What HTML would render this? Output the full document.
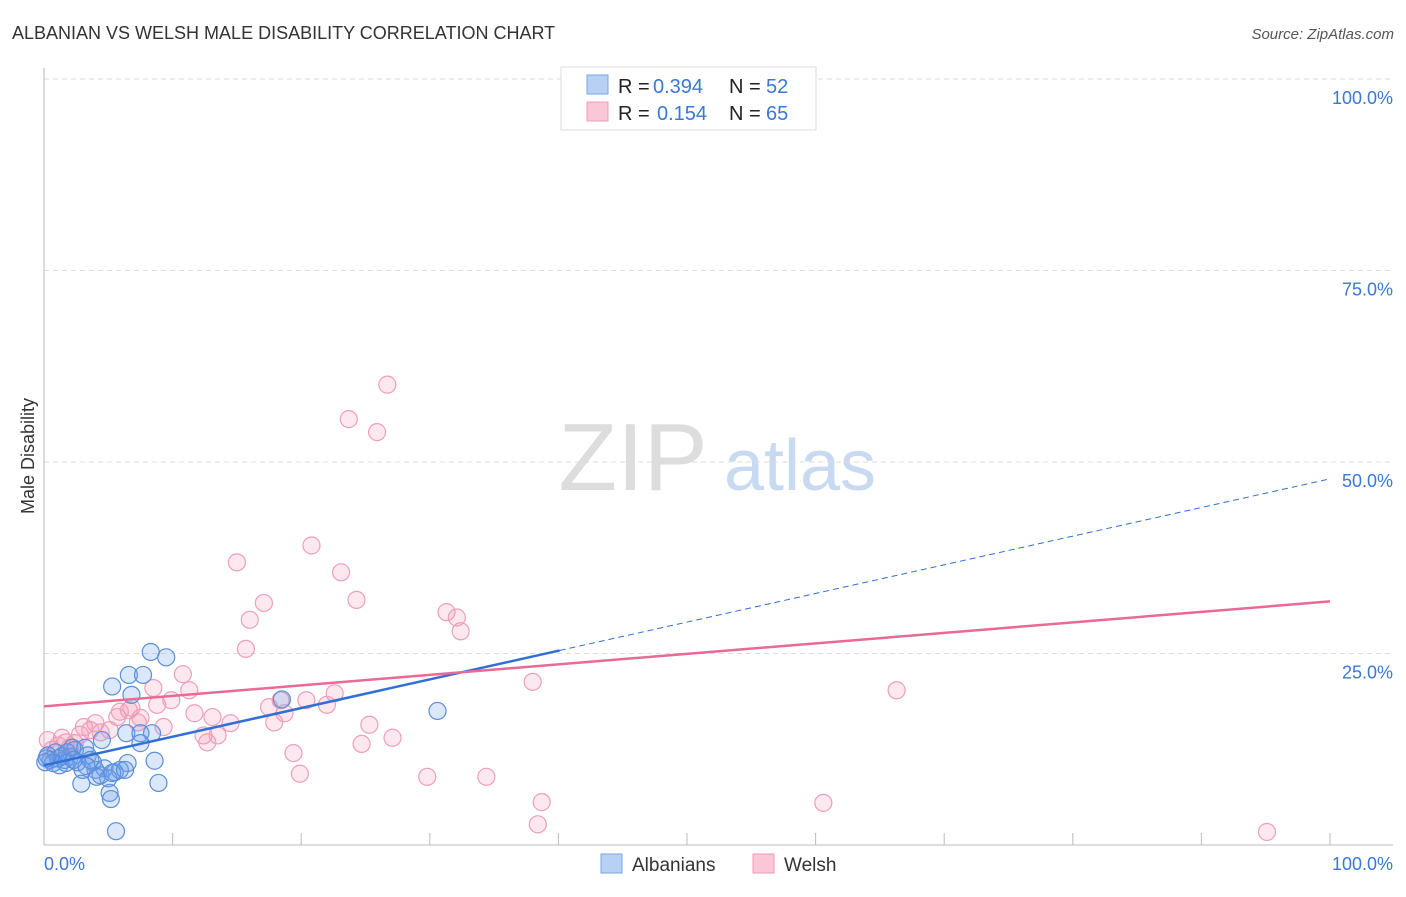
<!DOCTYPE html>
<html><head><meta charset="utf-8"><style>
body{margin:0;background:#fff;font-family:"Liberation Sans",sans-serif}
svg text{font-family:"Liberation Sans",sans-serif}
</style></head><body>
<svg id="c" width="1406" height="892">
<text x="12" y="39" font-size="18" fill="#333">ALBANIAN VS WELSH MALE DISABILITY CORRELATION CHART</text>
<text x="1394" y="39" font-size="15" fill="#555" text-anchor="end" font-style="italic">Source: ZipAtlas.com</text>
<text x="633" y="490" font-size="96" fill="#ddd" font-family="Liberation Serif" text-anchor="middle">ZIP</text>
<text x="800" y="490" font-size="72" fill="#c8daf2" text-anchor="middle">atlas</text>
<text transform="translate(34,456) rotate(-90)" font-size="18" fill="#333" text-anchor="middle">Male Disability</text>
<g id="grid"></g><g id="marks"></g>
<g>
<rect x="561" y="67" width="255" height="63" fill="#fff" stroke="#ddd"/>
<rect x="587" y="75" width="21" height="19" fill="#b7d0f3" stroke="#7aa6e6"/>
<rect x="587" y="102" width="21" height="19" fill="#f9c7d6" stroke="#ef9bb5"/>
<text x="618" y="93" font-size="20" fill="#222">R =</text>
<text x="653" y="93" font-size="20" fill="#3a78d6">0.394</text>
<text x="729" y="93" font-size="20" fill="#222">N =</text>
<text x="766" y="93" font-size="20" fill="#3a78d6">52</text>
<text x="618" y="120" font-size="20" fill="#222">R =</text>
<text x="657" y="120" font-size="20" fill="#3a78d6">0.154</text>
<text x="729" y="120" font-size="20" fill="#222">N =</text>
<text x="766" y="120" font-size="20" fill="#3a78d6">65</text>
</g>
<g>
<rect x="601" y="854" width="21" height="19" fill="#b7d0f3" stroke="#7aa6e6"/>
<text x="632" y="871" font-size="19" fill="#333">Albanians</text>
<rect x="753" y="854" width="21" height="19" fill="#f9c7d6" stroke="#ef9bb5"/>
<text x="784" y="871" font-size="19" fill="#333">Welsh</text>
</g>
<text x="44" y="870" font-size="18" fill="#3a78d6">0.0%</text>
<text x="1393" y="870" font-size="18" fill="#3a78d6" text-anchor="end">100.0%</text>
</svg>
<script>
const yTicks=[100,75,50,25];
const xTicks=[0,10,20,30,40,50,60,70,80,90,100];
const blueX=[8.3,9.5,6.6,7.7,5.3,6.8,18.5,30.6,6.4,8.4,7.5,7.5,4.5,8.6,6.5,5.9,4.0,4.7,3.0,2.0,1.2,0.5,0.9,2.4,3.4,3.8,5.5,4.4,2.9,8.9,5.1,5.2,5.6,1.6,2.2,0.3,1.1,3.2,5.0,4.1,1.4,1.8,0.7,2.6,3.6,0.1,5.3,6.3,0.2,1.7,3.3,2.3];
const blueY=[25.2,24.5,22.2,22.2,20.7,19.6,19.0,17.5,14.6,14.6,14.6,13.3,13.7,11.0,10.7,9.8,9.8,10.0,9.8,11.5,10.4,11.1,12.1,12.4,11.7,10.8,9.5,9.1,8.0,8.1,6.8,6.0,1.8,11.1,12.7,11.7,11.3,12.7,8.7,8.9,11.6,12.1,10.7,10.8,11.1,10.8,9.4,9.8,11.3,10.7,10.3,11.1];
const pinkX=[54.2,26.7,23.7,25.9,15.0,20.8,23.1,17.1,24.3,16.0,31.3,32.1,32.4,15.7,10.8,38.0,66.3,8.5,11.3,9.9,8.8,18.4,20.4,22.6,22.0,17.5,18.7,6.6,4.0,5.7,7.3,9.3,11.7,13.1,14.5,6.8,3.1,4.4,12.4,12.7,13.5,17.9,25.3,27.1,24.7,19.4,19.9,29.8,34.4,38.7,38.4,60.6,95.1,0.3,1.1,1.7,2.4,0.6,5.1,3.6,2.0,1.4,7.5,5.9,2.8];
const pinkY=[99.8,60.1,55.6,53.9,36.9,39.1,35.6,31.6,32.0,29.4,30.4,29.7,27.9,25.6,22.3,21.3,20.2,20.5,20.2,18.9,18.3,18.9,18.9,19.8,18.3,18.0,17.2,17.6,15.9,16.7,16.0,15.4,17.2,16.7,15.9,17.9,15.4,14.7,14.3,13.4,14.3,16.0,15.7,14.0,13.2,12.0,9.3,8.9,8.9,5.6,2.7,5.5,1.7,13.7,13.0,13.4,13.3,12.4,15.0,15.0,12.7,14.0,16.6,17.4,14.4];
const blueTrend=[10.4,47.8];
const pinkTrend=[18.1,31.8];
const NS='http://www.w3.org/2000/svg';
const sx=v=>44+v*12.86, sy=v=>845-v*7.66;
function mk(t,a,p){const e=document.createElementNS(NS,t);for(const k in a)e.setAttribute(k,a[k]);p.appendChild(e);return e;}
const g=document.getElementById('grid'),m=document.getElementById('marks');
yTicks.forEach(v=>{
 const l=mk('line',{x1:44,x2:1393,y1:sy(v),y2:sy(v),stroke:'#ddd','stroke-dasharray':'5,4'},g);
 
 
 const t=mk('text',{x:1393,y:sy(v)+25,'font-size':18,fill:'#3a78d6','text-anchor':'end'},g);
 t.textContent=v.toFixed(1)+'%';
 
 
});
let ax=mk('line',{x1:44,x2:44,y1:68,y2:845,stroke:'#bbb'},g);


ax=mk('line',{x1:44,x2:1393,y1:845,y2:845,stroke:'#bbb'},g);


xTicks.forEach(v=>{const l=mk('line',{x1:sx(v),x2:sx(v),y1:833,y2:845,stroke:'#bbb'},g);
 
 });
function pts(X,Y,fill,stroke,name){X.forEach((x,i)=>{const c=mk('circle',{cx:sx(x),cy:sy(Y[i]),r:8.5,fill:fill,stroke:stroke,'stroke-width':1.2},m);
 
 });}
pts(pinkX,pinkY,'rgba(244,150,180,0.22)','#ef9fb8','welsh-point');
pts(blueX,blueY,'rgba(110,160,235,0.25)','#5a8fdc','albanian-point');
const bx=40.1, by=blueTrend[0]+(blueTrend[1]-blueTrend[0])*bx/100;
let tl=mk('line',{x1:sx(0),y1:sy(blueTrend[0]),x2:sx(bx),y2:sy(by),stroke:'#2f6fd6','stroke-width':2.5},m);


tl=mk('line',{x1:sx(bx),y1:sy(by),x2:sx(100),y2:sy(blueTrend[1]),stroke:'#2f6fd6','stroke-width':1,'stroke-dasharray':'6,4'},m);


tl=mk('line',{x1:sx(0),y1:sy(pinkTrend[0]),x2:sx(100),y2:sy(pinkTrend[1]),stroke:'#e86a95','stroke-width':2.5},m);


</script>
</body></html>
